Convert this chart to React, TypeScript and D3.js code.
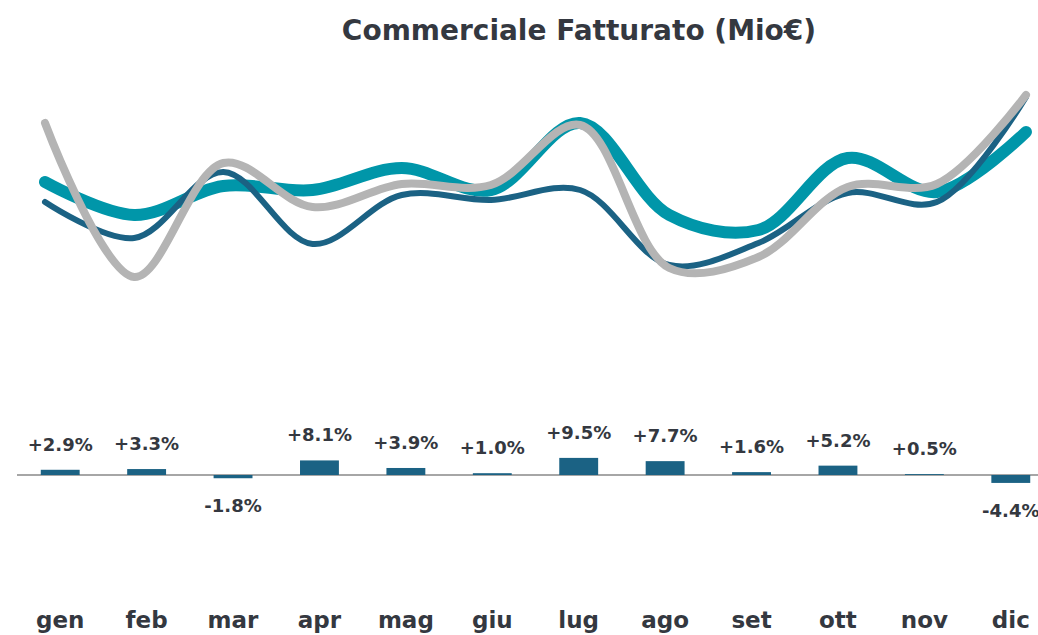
import { useMemo } from 'react';
import * as d3 from 'd3';

const width = 1038;
const height = 635;

const months = ['gen', 'feb', 'mar', 'apr', 'mag', 'giu', 'lug', 'ago', 'set', 'ott', 'nov', 'dic'];

// Fatturato per mese (Mio€)
const serieBlu = [9.8, 6.2, 12.8, 5.6, 10.5, 10.0, 11.0, 3.5, 5.7, 10.7, 9.8, 20.3];
const serieTeal = [11.8, 8.5, 11.4, 11.0, 13.2, 11.0, 17.7, 8.5, 7.0, 14.2, 10.8, 16.8];
const serieGrigio = [17.7, 2.3, 13.7, 9.3, 11.6, 11.5, 17.5, 3.2, 4.3, 11.3, 11.6, 20.5];

// variazione % vs anno precedente
const delta = [2.9, 3.3, -1.8, 8.1, 3.9, 1.0, 9.5, 7.7, 1.6, 5.2, 0.5, -4.4];

const TEXT = '#343840';
const FONT = '"DejaVu Sans", sans-serif';

export default function App() {
  const xLine = useMemo(() => d3.scalePoint().domain(months).range([45, 1026]), []);
  const yLine = useMemo(() => d3.scaleLinear().domain([0, 22]).range([300, 80]), []);

  const xBar = useMemo(
    () => d3.scaleBand().domain(months).range([17, 1054]).paddingInner(0.55).paddingOuter(0.275),
    []
  );
  const yBar = useMemo(() => d3.scaleLinear().domain([-5, 10]).range([484, 457]), []);
  const base = yBar(0);

  const line = d3
    .line<number>()
    .x((_, i) => xLine(months[i]) ?? 0)
    .y((d) => yLine(d))
    .curve(d3.curveCatmullRom.alpha(0.5));

  // teal sotto, poi blu, grigio sopra
  const series = [
    { values: serieTeal, color: '#0096A9', w: 12 },
    { values: serieBlu, color: '#1B6284', w: 6 },
    { values: serieGrigio, color: '#B4B4B4', w: 8 },
  ];

  const fmt = (v: number) => (v >= 0 ? '+' : '') + v.toFixed(1) + '%';

  const bars = delta.map((d, i) => {
    const x = xBar(months[i]) ?? 0;
    const bw = xBar.bandwidth();
    const y0 = Math.min(yBar(d), base);
    const h = Math.abs(yBar(d) - base);
    const labelY = d >= 0 ? yBar(d) - 19 : yBar(d) + 34;
    return (
      <g key={i}>
        <rect x={x} y={y0} width={bw} height={h} fill="#1B6284" />
        <text
          x={x + bw / 2}
          y={labelY}
          textAnchor="middle"
          fontSize={18}
          fontWeight="bold"
          fill={TEXT}
        >
          {fmt(d)}
        </text>
      </g>
    );
  });

  const monthLabels = months.map((m, i) => (
    <text
      key={i}
      x={(xBar(m) ?? 0) + xBar.bandwidth() / 2}
      y={628}
      textAnchor="middle"
      fontSize={23}
      fontWeight="bold"
      fill={TEXT}
    >
      {m}
    </text>
  ));

  return (
    <div style={{ position: 'absolute', left: 0, top: 0 }}>
      <svg width={width} height={height} style={{ display: 'block', fontFamily: FONT }}>
        <rect width={width} height={height} fill="#fff" />
        <text x={579} y={40} textAnchor="middle" fontSize={28} fontWeight="bold" fill={TEXT}>
          Commerciale Fatturato (Mio€)
        </text>
        {series.map((s, i) => (
          <path
            key={i}
            d={line(s.values) ?? ''}
            fill="none"
            stroke={s.color}
            strokeWidth={s.w}
            strokeLinecap="round"
            strokeLinejoin="round"
          />
        ))}
        <line x1={17} x2={width} y1={base} y2={base} stroke="#A6A6A6" strokeWidth={2} />
        {bars}
        {monthLabels}
      </svg>
    </div>
  );
}
